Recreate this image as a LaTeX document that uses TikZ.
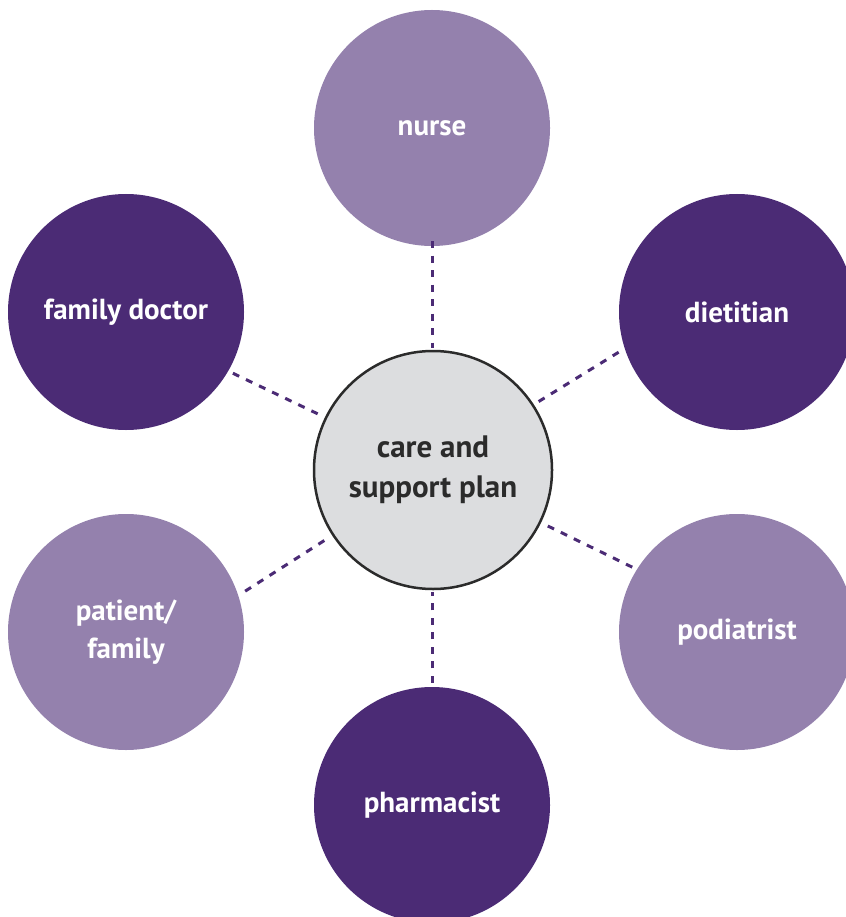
\documentclass[tikz,border=0pt]{standalone}
\usepackage{fontspec}
\setmainfont{PT Sans}
\definecolor{darkp}{HTML}{4B2B75}
\definecolor{lightp}{HTML}{9481AD}
\definecolor{centerg}{HTML}{DCDDDF}
\definecolor{textg}{HTML}{2B2B2B}
\begin{document}
\begin{tikzpicture}[x=1pt,y=-1pt,
  role/.style={circle,minimum size=236pt,inner sep=0pt,text=white,font=\bfseries\fontsize{29}{38}\selectfont,align=center},
  darkrole/.style={role,fill=darkp},
  lightrole/.style={role,fill=lightp},
  hub/.style={circle,minimum size=238pt,inner sep=0pt,fill=centerg,draw=textg,line width=2.5pt,text=textg,font=\bfseries\fontsize{31}{40}\selectfont,align=center},
  link/.style={draw=darkp,line width=3pt,dash pattern=on 7pt off 7.5pt}]
\useasboundingbox (0,0) rectangle (845,917);
\node[lightrole] (nurse) at (432,128) {nurse};
\node[darkrole] (doctor) at (126,312) {family doctor};
\node[darkrole] (diet) at (737,312) {dietitian};
\node[lightrole] (patient) at (126,632) {patient/\\family};
\node[lightrole] (podi) at (737,632) {podiatrist};
\node[darkrole] (pharm) at (432,805) {pharmacist};
\node[hub] (hub) at (433,470) {care and\\support plan};
\draw[link,shorten <=-5pt,shorten >=2pt] (nurse.south) -- (nurse.south |- hub.north);
\draw[link,shorten <=5pt,shorten >=5pt] (doctor.-30) -- (hub.154.5);
\draw[link,shorten <=7pt,shorten >=4pt] (diet.198) -- (hub.33);
\draw[link,shorten <=8pt,shorten >=6pt] (patient.18.3) -- (hub.213.7);
\draw[link,shorten <=5pt,shorten >=5pt] (podi.148.6) -- (hub.-26.4);
\draw[link,shorten <=4pt,shorten >=2pt] (pharm.north) -- (pharm.north |- hub.south);
\end{tikzpicture}
\end{document}
